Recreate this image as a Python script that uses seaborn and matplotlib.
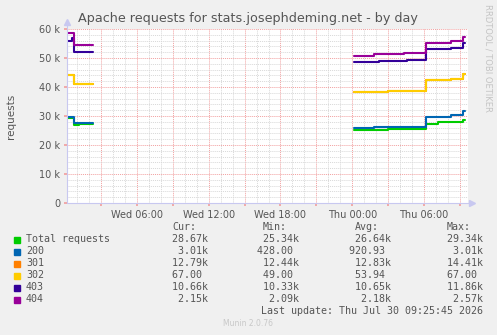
import matplotlib

matplotlib.use("Agg")

import matplotlib.pyplot as plt
import numpy as np
import pandas as pd
import seaborn as sns

W, H = 497, 335

SERIES = ["Total requests", "200", "301", "302", "403", "404"]
COLORS = ["#00cc00", "#0066b3", "#ff8000", "#ffcc00", "#330099", "#990099"]

# hours since Wed 00:00, two runs of samples with a gap between them
HOURS_A = [0.15, 0.55, 0.75, 1.15, 2.32]
TOTAL_A = [29.2, 29.2, 26.9, 27.07, 27.07]
S200_A = [0.55, 0.6, 0.6, 0.43, 0.43]
S301_A = [14.3, 14.25, 13.45, 13.45, 13.45]
S302_A = [0.067, 0.067, 0.06, 0.06, 0.06]
S403_A = [11.88, 12.68, 11.19, 11.19, 11.19]
S404_A = [2.57, 1.9, 2.3, 2.3, 2.3]

HOURS_B = [24.14, 25.8, 26.2, 27.0, 28.3, 28.6, 30.16, 31.16, 32.3, 33.25, 33.42]
TOTAL_B = [25.34, 25.34, 25.34, 25.67, 25.67, 25.67, 27.2, 27.8, 27.8, 28.67, 28.67]
S200_B = [0.43, 0.76, 0.76, 0.43, 0.43, 0.43, 2.6, 2.0, 2.4, 3.01, 3.01]
S301_B = [12.38, 12.05, 12.05, 12.45, 12.45, 12.45, 12.45, 12.45, 12.55, 12.79, 12.79]
S302_B = [0.05, 0.05, 0.05, 0.05, 0.05, 0.05, 0.055, 0.055, 0.06, 0.067, 0.067]
S403_B = [10.5, 10.5, 10.9, 10.5, 10.5, 10.7, 10.7, 10.7, 10.49, 10.66, 10.66]
S404_B = [2.1, 2.6, 2.2, 2.2, 2.5, 2.3, 2.3, 2.3, 2.5, 2.15, 2.15]

Y_TICKS = [0, 10, 20, 30, 40, 50, 60]
X_TICK_HOURS = [6, 12, 18, 24, 30]
X_TICK_LABELS = ["Wed 06:00", "Wed 12:00", "Wed 18:00", "Thu 00:00", "Thu 06:00"]

CUR = ["28.67k", "3.01k", "12.79k", "67.00", "10.66k", "2.15k"]
MIN = ["25.34k", "428.00", "12.44k", "49.00", "10.33k", "2.09k"]
AVG = ["26.64k", "920.93", "12.83k", "53.94", "10.65k", "2.18k"]
MAX = ["29.34k", "3.01k", "14.41k", "67.00", "11.86k", "2.57k"]
LAST_UPDATE = "Last update: Thu Jul 30 09:25:45 2026"


def px(x, y):
    return x / W, 1 - y / H


def build_frame() -> pd.DataFrame:
    rows = []
    runs = [
        ("a", HOURS_A, [TOTAL_A, S200_A, S301_A, S302_A, S403_A, S404_A]),
        ("b", HOURS_B, [TOTAL_B, S200_B, S301_B, S302_B, S403_B, S404_B]),
    ]
    for run, hours, values in runs:
        stacked = np.cumsum(np.array(values), axis=0)  # munin STACK
        for name, vals in zip(SERIES, stacked):
            for h, v in zip(hours, vals):
                rows.append({"hour": h, "value": v, "series": name, "run": run})
    return pd.DataFrame(rows)


def cell(s: str) -> str:
    return (s if s.endswith("k") else s + " ").rjust(7)


sns.set_theme(style="white")
plt.rcParams["font.family"] = ["DejaVu Sans"]

fig = plt.figure(figsize=(W / 100, H / 100), dpi=100, facecolor="#f0f0f0")
ax = fig.add_axes([67 / W, 1 - 203 / H, (468 - 67) / W, (203 - 29) / H])
ax.set_facecolor("white")

data = build_frame()
sns.lineplot(
    data=data, x="hour", y="value", hue="series", units="run", estimator=None,
    sort=False, palette=dict(zip(SERIES, COLORS)), hue_order=SERIES,
    drawstyle="steps-post", linewidth=1.5, legend=False, ax=ax,
)

ax.set_xlim(0.147, 33.68)
ax.set_ylim(0, 60)
ax.set_xlabel("")
ax.set_ylabel("")

ax.set_xticks(list(range(3, 34, 3)))
ax.set_xticklabels([X_TICK_LABELS[X_TICK_HOURS.index(h)] if h in X_TICK_HOURS else ""
                    for h in range(3, 34, 3)])
ax.set_xticks(list(range(1, 34)), minor=True)
ax.set_yticks(Y_TICKS)
ax.set_yticklabels([f"{v} k" if v else "0" for v in Y_TICKS])
ax.set_yticks(list(range(0, 61, 2)), minor=True)

ax.grid(which="major", color="#f2a0a0", linestyle=(0, (1, 1)), linewidth=0.7)
ax.grid(which="minor", color="#d8d8d8", linestyle=(0, (1, 1)), linewidth=0.7)
ax.set_axisbelow(True)
ax.tick_params(which="major", length=2, color="#f2a0a0", labelsize=7,
               labelcolor="#555555", pad=3)
ax.tick_params(which="minor", length=0)
ax.tick_params(axis="x", which="both", bottom=True)
ax.tick_params(axis="y", which="both", left=True)

for side in ["top", "right", "left", "bottom"]:
    ax.spines[side].set_visible(False)
axis_color = "#c8c8f0"
ax.plot([0, 0], [0, 1.035], transform=ax.transAxes, color=axis_color, lw=0.8, clip_on=False)
ax.plot([0, 1.01], [0, 0], transform=ax.transAxes, color=axis_color, lw=0.8, clip_on=False)
ax.plot([0], [1.04], transform=ax.transAxes, marker="^", ms=4, color=axis_color, clip_on=False)
ax.plot([1.01], [0], transform=ax.transAxes, marker=">", ms=4, color=axis_color, clip_on=False)

fig.text(*px(248, 18.5), "Apache requests for stats.josephdeming.net - by day",
         ha="center", va="center", fontsize=9.2, color="#555555")
fig.text(*px(11, 116), "requests", rotation=90, ha="center", va="center",
         fontsize=7.5, color="#555555")
fig.text(*px(488, 58), "RRDTOOL / TOBI OETIKER", rotation=270, ha="center",
         va="center", fontsize=6, color="#c4c4c4")

mono = "DejaVu Sans Mono"
text_color = "#555555"
cw = 6.02
for x, head in [(172, "Cur:"), (263, "Min:"), (355, "Avg:"), (447, "Max:")]:
    fig.text(*px(x, 227.5), head, ha="left", va="center", family=mono,
             fontsize=7.2, color=text_color)
for i, name in enumerate(SERIES):
    y = 239.5 + 12 * i
    fig.patches.append(plt.Rectangle(px(14, y + 3), 6 / W, 6 / H,
                                     transform=fig.transFigure, color=COLORS[i]))
    fig.text(*px(26, y), name, ha="left", va="center", family=mono,
             fontsize=7.2, color=text_color)
    for end, col in [(208, CUR), (299, MIN), (391, AVG), (483, MAX)]:
        fig.text(*px(end - 7 * cw, y), cell(col[i]), ha="left", va="center",
                 family=mono, fontsize=7.2, color=text_color)
fig.text(*px(483, 311.5), LAST_UPDATE, ha="right", va="center", family=mono,
         fontsize=7.2, color=text_color)
fig.text(*px(248, 324), "Munin 2.0.76", ha="center", va="center",
         fontsize=5.5, color="#c8c8c8")

fig.savefig("out.png", dpi=100, facecolor=fig.get_facecolor())
